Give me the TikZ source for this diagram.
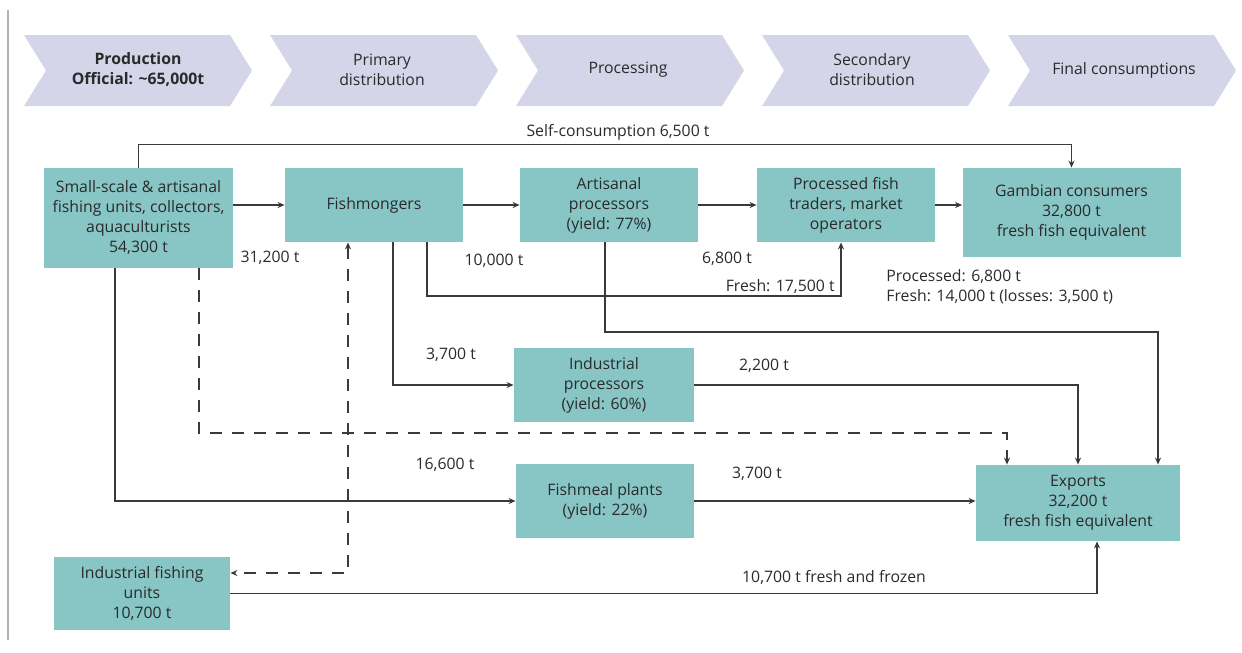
\documentclass[tikz,border=0pt]{standalone}
\usepackage{fontspec}
\setmainfont{Open Sans}
\usepackage{tikz}
\usetikzlibrary{arrows.meta, positioning}
\usepackage{xcolor}

\definecolor{boxteal}{HTML}{88C5C5}
\definecolor{chevgrey}{HTML}{D5D5EA}
\definecolor{inkgrey}{HTML}{2A2A2A}
\definecolor{linegrey}{HTML}{3A3A3A}

\tikzset{
  stage/.style={fill=chevgrey},
  stagetext/.style={align=center, text=inkgrey, font=\fontsize{7.9}{10}\selectfont},
  fishbox/.style={fill=boxteal, align=center, text=inkgrey, inner sep=0pt,
    font=\fontsize{7.9}{10}\selectfont},
  flow/.style={draw=linegrey, line width=0.6pt, -{Stealth[length=3.5pt,width=3pt]}},
  dashflow/.style={flow, dash pattern=on 6pt off 5pt},
  qty/.style={text=inkgrey, font=\fontsize{7.9}{10}\selectfont, inner sep=0pt}
}

\begin{document}
\begin{tikzpicture}[x=0.5pt, y=-0.5pt]
  \useasboundingbox (0,0) rectangle (1242,653);
  \draw[gray!60, line width=1pt] (8,10) -- (8,640);

  % stages
  \foreach \i in {0,...,4}
    \fill[stage] ({24+246*\i},35) -- ++(206,0) -- ++(22,35.5) -- ++(-22,35.5)
      -- ++(-206,0) -- ++(22,-35.5) -- cycle;
  \node[stagetext] (prod) at (138,70) {\textbf{Production}\\\textbf{Official: \textasciitilde65,000t}};
  \node[stagetext] (primdist) at (382,70) {Primary\\distribution};
  \node[stagetext] (procg) at (628,70) {Processing};
  \node[stagetext] (secdist) at (872,70) {Secondary\\distribution};
  \node[stagetext] (finalc) at (1124,70) {Final consumptions};

  % boxes
  \node[fishbox, minimum width=94.5pt, minimum height=50pt] (src) at (138.5,218)
    {Small-scale \& artisanal\\fishing units, collectors,\\aquaculturists\\54,300 t};
  \node[fishbox, minimum width=89pt, minimum height=37pt] (fishm) at (374,205) {Fishmongers};
  \node[fishbox, minimum width=89pt, minimum height=37pt] (artis) at (609,205)
    {Artisanal\\processors\\(yield: 77\%)};
  \node[fishbox, minimum width=89pt, minimum height=37pt] (traders) at (846,205)
    {Processed fish\\traders, market\\operators};
  \node[fishbox, minimum width=109pt, minimum height=44.5pt] (gamb) at (1071.5,212.5)
    {Gambian consumers\\32,800 t\\fresh fish equivalent};
  \node[fishbox, minimum width=90pt, minimum height=37pt] (indproc) at (604,385)
    {Industrial\\processors\\(yield: 60\%)};
  \node[fishbox, minimum width=89pt, minimum height=37pt] (meal) at (605,501)
    {Fishmeal plants\\(yield: 22\%)};
  \node[fishbox, minimum width=102pt, minimum height=38pt] (exports) at (1078,503)
    {Exports\\32,200 t\\fresh fish equivalent};
  \node[fishbox, minimum width=88pt, minimum height=36.5pt] (indfish) at (142,593.5)
    {Industrial fishing\\units\\10,700 t};

  % flows
  \draw[flow] (src.north) -- ++(0,-23) -| (gamb.north);
  \draw[flow] (src.east |- fishm.west) -- (fishm.west);
  \draw[flow] (fishm.east) -- (artis.west);
  \draw[flow] (artis.east) -- (traders.west);
  \draw[flow] (traders.east) -- (gamb.west |- traders.east);
  \draw[flow] (fishm.south -| 427,0) |- (841,296) -- (traders.south -| 841,0);
  \draw[flow] (fishm.south -| 393,0) |- (indproc.west);
  \draw[flow] (artis.south -| 605,0) |- (1158,332) -- (exports.north -| 1158,0);
  \draw[flow] (indproc.east) -| (exports.north);
  \draw[dashflow] (src.south -| 199,0) |- (1007,433) -- (exports.north -| 1007,0);
  \draw[dashflow, {Stealth[length=3.5pt,width=3pt]}-{Stealth[length=3.5pt,width=3pt]}]
    (fishm.south -| 348,0) |- (indfish.east |- 0,573);
  \draw[flow] (src.south -| 115,0) |- (meal.west);
  \draw[flow] (meal.east) -- (exports.west |- meal.east);
  \draw[flow] (indfish.east) -| (exports.south -| 1097,0);

  % quantities
  \node[qty] (selfq) at (618,132) {Self-consumption 6,500 t};
  \node[qty] (fishmq) at (270,258) {31,200 t};
  \node[qty] (artisq) at (494,261) {10,000 t};
  \node[qty] (tradq) at (727,259) {6,800 t};
  \node[qty, anchor=east] (freshq) at (835,287) {Fresh: 17,500 t};
  \node[qty, anchor=west, align=left] (gambq) at (886,287)
    {Processed: 6,800 t\\Fresh: 14,000 t (losses: 3,500 t)};
  \node[qty] (indprocq) at (451,355) {3,700 t};
  \node[qty] (indexpq) at (764,366) {2,200 t};
  \node[qty] (mealq) at (445,465) {16,600 t};
  \node[qty] (mealexpq) at (757,474) {3,700 t};
  \node[qty] (indfishq) at (834,577) {10,700 t fresh and frozen};
\end{tikzpicture}
\end{document}
